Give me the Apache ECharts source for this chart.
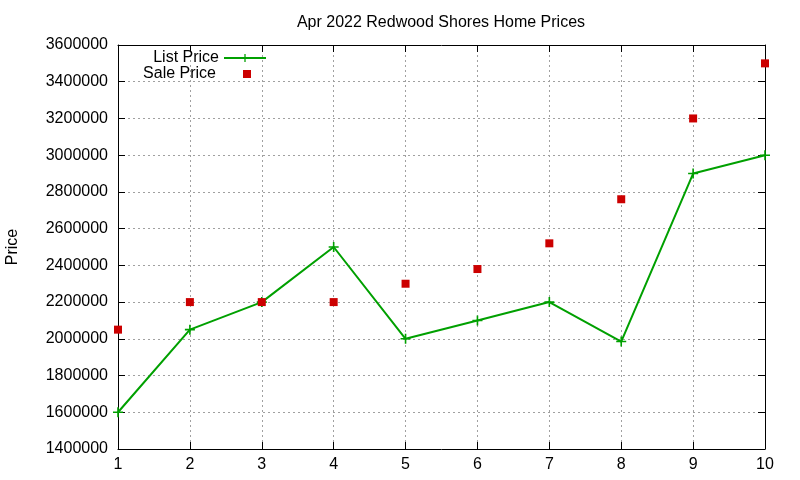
<!DOCTYPE html>
<html><head><meta charset="utf-8">
<script src="https://cdn.jsdelivr.net/npm/echarts@6/dist/echarts.min.js"></script>
<style>html,body{margin:0;padding:0;background:#fff}#c{width:800px;height:480px}</style>
</head><body><div id="c"></div>
<script>
var xValues = [1, 2, 3, 4, 5, 6, 7, 8, 9, 10];
var listPrice = [1600000, 2050000, 2200000, 2500000, 2000000, 2100000, 2200000, 1985000, 2900000, 3000000];
var salePrice = [2050000, 2200000, 2200000, 2200000, 2300000, 2380000, 2520000, 2760000, 3200000, 3500000];
var titleText = 'Apr 2022 Redwood Shores Home Prices';
var yName = 'Price';

var F = 'Liberation Sans, Arial, sans-serif';
var plus = 'path://M4.2,0H5.8V4.2H10V5.8H5.8V10H4.2V5.8H0V4.2H4.2Z';
var square = 'path://M0,0H10V10H0Z';
var chart = echarts.init(document.getElementById('c'));
var gridLine = {show: true, lineStyle: {color: '#a0a0a0', type: [2, 3], width: 1}};
var axLine = {show: true, lineStyle: {color: '#000', width: 1}};
var tick = {show: true, inside: true, length: 7, lineStyle: {color: '#000'}};
var plain = function (v) { return String(v); };
chart.setOption({
  animation: false,
  backgroundColor: '#fff',
  title: {text: titleText, left: 436, top: 10, textAlign: 'center',
    textStyle: {fontFamily: F, fontSize: 16, fontWeight: 'normal', color: '#000'}},
  grid: {left: 118, right: 35, top: 45, bottom: 31, containLabel: false, outerBoundsMode: 'none'},
  legend: [
    {data: [{name: 'List Price'}], right: 528, top: 45, align: 'right', orient: 'vertical',
      itemWidth: 42, itemHeight: 10, textStyle: {fontFamily: F, fontSize: 16, color: '#000'}},
    {data: [{name: 'Sale Price', icon: square}], right: 544, top: 61, align: 'right', orient: 'vertical',
      itemWidth: 8, itemHeight: 8,
      textStyle: {fontFamily: F, fontSize: 16, color: '#000', padding: [0, 22, 0, 0]}}
  ],
  xAxis: [
    {type: 'value', min: 1, max: 10, interval: 1, position: 'bottom',
      axisLine: axLine, axisTick: tick, splitLine: gridLine,
      axisLabel: {fontFamily: F, fontSize: 16, color: '#000', margin: 8, formatter: plain}},
    {type: 'value', min: 1, max: 10, interval: 1, position: 'top',
      axisLine: axLine, axisTick: tick, splitLine: {show: false}, axisLabel: {show: false}}
  ],
  yAxis: [
    {type: 'value', min: 1400000, max: 3600000, interval: 200000, position: 'left',
      name: yName, nameLocation: 'middle', nameGap: 97, nameRotate: 90,
      nameTextStyle: {fontFamily: F, fontSize: 16, color: '#000'},
      axisLine: axLine, axisTick: tick, splitLine: gridLine,
      axisLabel: {fontFamily: F, fontSize: 16, color: '#000', margin: 10, formatter: plain}},
    {type: 'value', min: 1400000, max: 3600000, interval: 200000, position: 'right',
      axisLine: axLine, axisTick: tick, splitLine: {show: false}, axisLabel: {show: false}}
  ],
  series: [
    {name: 'List Price', type: 'line', data: xValues.map(function (x, i) { return [x, listPrice[i]]; }),
      symbol: plus, symbolSize: 10, showAllSymbol: true,
      lineStyle: {color: '#00a000', width: 2}, itemStyle: {color: '#00a000'}, z: 3},
    {name: 'Sale Price', type: 'scatter', data: xValues.map(function (x, i) { return [x, salePrice[i]]; }),
      symbol: 'rect', symbolSize: 8, itemStyle: {color: '#cc0000', opacity: 1}, z: 4}
  ]
});
</script></body></html>
